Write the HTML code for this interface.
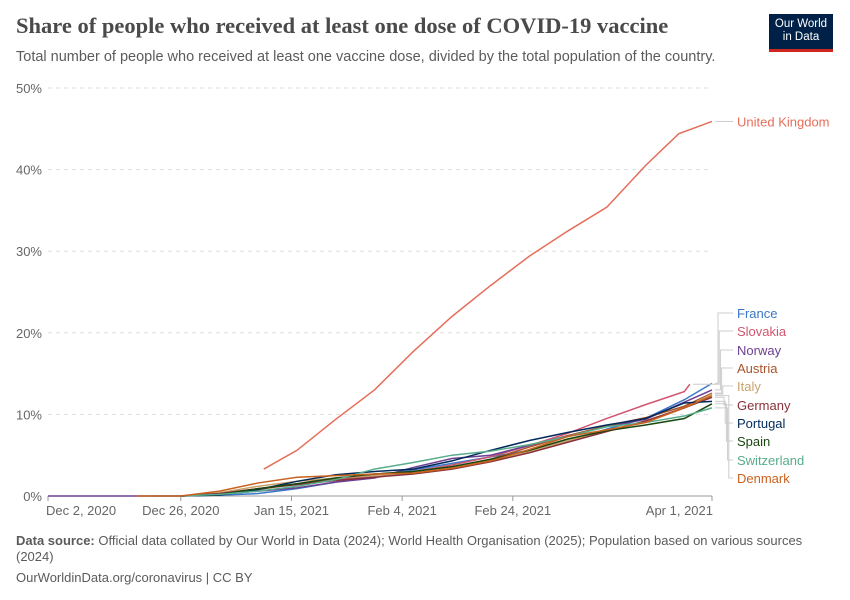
<!DOCTYPE html>
<html><head><meta charset="utf-8"><style>
body{margin:0;background:#fff;font-family:"Liberation Sans",sans-serif;}
#wrap{position:relative;width:850px;height:600px;overflow:hidden}
.t{position:absolute;white-space:nowrap}
</style></head><body>
<div id="wrap">
<div class="t" style="left:16px;top:13px;font-family:'Liberation Serif',serif;font-size:22.5px;font-weight:bold;color:#4a4a4a">Share of people who received at least one dose of COVID-19 vaccine</div>
<div class="t" style="left:16px;top:49px;font-size:14.5px;color:#5b5b5b">Total number of people who received at least one vaccine dose, divided by the total population of the country.</div>
<div style="position:absolute;left:769px;top:14px;width:64px;height:38px;background:#002147;border-bottom:3px solid #ce261e;color:#fff;font-size:11.5px;line-height:13px;text-align:center;padding-top:4px;box-sizing:border-box">Our World<br>in Data</div>
<svg id="chart" width="850" height="600" style="position:absolute;left:0;top:0"></svg>
<div class="t" style="left:16px;top:533px;font-size:13px;color:#5b5b5b;white-space:normal;width:790px;line-height:16px"><b>Data source:</b> Official data collated by Our World in Data (2024); World Health Organisation (2025); Population based on various sources (2024)</div>
<div class="t" style="left:16px;top:570px;font-size:13px;color:#5b5b5b">OurWorldinData.org/coronavirus | CC BY</div>
</div>
<script>
const days=[24,31,38,45,52,59,66,73,80,87,94,101,108,115,120];
const ukDays=[39,45,52,59,66,73,80,87,94,101,108,114,120];
const ukVals=[3.3,5.6,9.4,13,17.7,22,25.8,29.4,32.5,35.4,40.5,44.4,45.9];
const names=["France","Slovakia","Norway","Austria","Italy","Germany","Portugal","Spain","Switzerland","Denmark"];
const colors=["#3a78c9","#d1556f","#6d3e91","#a9532b","#c9a36a","#883039","#00295b","#18470f","#58ac8c","#c9611f"];
const france=[0,0.1,0.3,0.9,1.7,2.5,3.2,4.0,4.8,5.6,6.8,8.2,9.5,11.8,13.8];
const slovakia=[0,0.3,0.9,1.5,2.0,2.5,3.0,3.8,4.8,6.2,7.7,9.5,11.2,12.8,null];
const norway=[0,0.2,0.6,1.0,1.7,2.2,3.5,4.6,5.0,6.2,7.4,8.5,9.4,11.5,13.0];
const austria=[0,0.3,0.8,1.5,2.2,2.6,3.0,3.5,4.5,6.0,7.4,8.6,9.6,11.0,12.6];
const italy=[0,0.4,1.2,1.8,2.2,2.5,2.8,3.5,4.3,5.5,6.8,8.0,9.2,10.8,12.5];
const germany=[0,0.3,0.9,1.4,1.9,2.3,2.7,3.3,4.2,5.3,6.6,7.9,9.2,10.8,12.1];
const portugal=[0,0.1,0.8,1.8,2.6,3.0,3.3,4.3,5.6,6.8,7.8,8.7,9.5,11.4,11.6];
const spain=[0,0.2,0.9,1.5,2.2,2.7,3.0,3.6,4.5,5.6,7.0,8.0,8.7,9.5,11.3];
const switzerland=[0,0.2,0.6,1.2,2.0,3.3,4.1,5.0,5.5,6.3,7.3,8.5,9.0,9.8,10.8];
const denmark=[0,0.6,1.6,2.3,2.5,2.7,2.8,3.4,4.3,5.7,7.3,8.1,9.0,10.8,12.3];
const startDays=[null,null,0,null,null,null,null,null,19,16];
const series=[france,slovakia,norway,austria,italy,germany,portugal,spain,switzerland,denmark];
const yTicks=[0,10,20,30,40,50];
const xTickDays=[0,24,44,64,84,120];
const xTickLabels=["Dec 2, 2020","Dec 26, 2020","Jan 15, 2021","Feb 4, 2021","Feb 24, 2021","Apr 1, 2021"];
const labelY=[313,331,350,368,386,405,423,441,460,478];

const svg=document.getElementById('chart');const NS="http://www.w3.org/2000/svg";
const X=d=>48+d*(712-48)/120, Y=v=>496-v*(496-88)/50;
function mk(t,a,txt){const e=document.createElementNS(NS,t);for(const k in a)e.setAttribute(k,a[k]);if(txt!=null)e.textContent=txt;svg.appendChild(e);return e;}
yTicks.forEach(v=>{
 if(v>0){const g=mk('line',{x1:48,x2:712,y1:Y(v),y2:Y(v),stroke:'#ddd','stroke-dasharray':'4,4'});
 }
 const t=mk('text',{x:42,y:Y(v)+5,'text-anchor':'end','font-size':13,fill:'#666','font-family':'Liberation Sans'},v+'%');
 
});
const ax=mk('line',{x1:48,x2:712,y1:496,y2:496,stroke:'#999'});

xTickDays.forEach((d,i)=>{
 const tk=mk('line',{x1:X(d),x2:X(d),y1:496,y2:501,stroke:'#999'});
 
 const anchor=i===0?'start':(i===xTickDays.length-1?'end':'middle');
 const t=mk('text',{x:i===0?X(d)-2:(i===xTickDays.length-1?X(d)+1:X(d)),y:515,'text-anchor':anchor,'font-size':13,fill:'#666','font-family':'Liberation Sans'},xTickLabels[i]);
 
});
series.forEach((s,i)=>{
 let pts=[];
 if(startDays[i]!=null)pts.push([X(startDays[i]),Y(0)]);
 s.forEach((v,j)=>{if(v!=null)pts.push([X(days[j]),Y(v)]);});
 if(i===1)pts.push([X(116),Y(13.7)]);
 const p=mk('polyline',{points:pts.map(p=>p.join(',')).join(' '),fill:'none',stroke:colors[i],'stroke-width':1.5});
 
 const last=pts[pts.length-1];const kx=718+i*1.2;
 const c=mk('polyline',{points:`${last[0]+3},${last[1]} ${kx},${last[1]} ${kx},${labelY[i]} 733,${labelY[i]}`,fill:'none',stroke:'#ccc','stroke-width':1});
 
 const t=mk('text',{x:737,y:labelY[i]+5,'font-size':13,fill:colors[i],'font-family':'Liberation Sans'},names[i]);
 
});
const uk=mk('polyline',{points:ukDays.map((d,j)=>X(d)+','+Y(ukVals[j])).join(' '),fill:'none',stroke:'#e56e5a','stroke-width':1.5});

const uc=mk('line',{x1:716,x2:733,y1:Y(45.9),y2:Y(45.9),stroke:'#ccc'});

const ut=mk('text',{x:737,y:Y(45.9)+5,'font-size':13,fill:'#e56e5a','font-family':'Liberation Sans'},'United Kingdom');

</script>
</body></html>
